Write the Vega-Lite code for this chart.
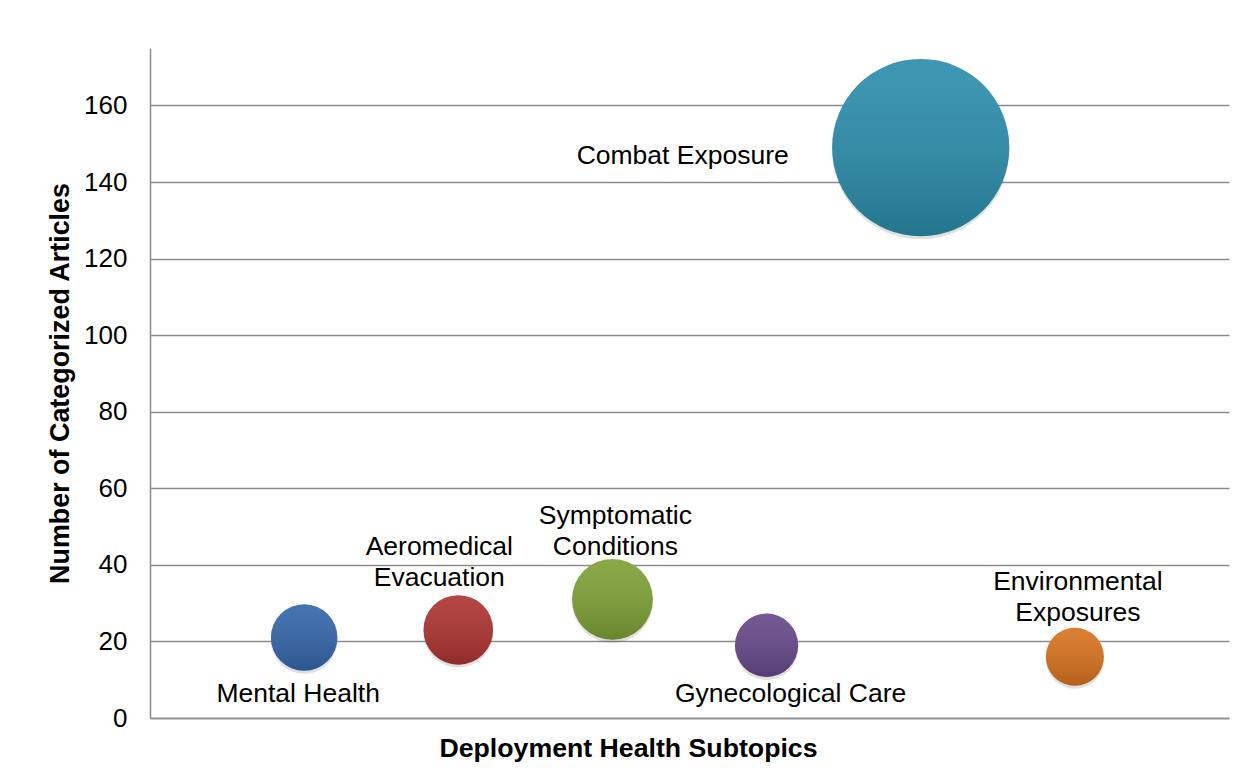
{
  "$schema": "https://vega.github.io/schema/vega-lite/v6.json",
  "width": 1079,
  "height": 670,
  "autosize": {"type": "none"},
  "padding": {"left": 150, "top": 48, "right": 25, "bottom": 63},
  "background": "white",
  "config": {
    "font": "Liberation Sans",
    "view": {"stroke": null},
    "axis": {
      "labelFont": "Liberation Sans",
      "titleFont": "Liberation Sans",
      "labelColor": "#000000",
      "titleColor": "#000000",
      "domainColor": "#8c8c8c",
      "domainWidth": 1.5,
      "gridColor": "#8c8c8c",
      "gridWidth": 1.5
    }
  },
  "data": {
    "values": [
      {"topic": "Mental Health", "x": 1, "articles": 21},
      {"topic": "Aeromedical Evacuation", "x": 2, "articles": 23},
      {"topic": "Symptomatic Conditions", "x": 3, "articles": 31},
      {"topic": "Gynecological Care", "x": 4, "articles": 19},
      {"topic": "Combat Exposure", "x": 5, "articles": 149},
      {"topic": "Environmental Exposures", "x": 6, "articles": 16}
    ]
  },
  "encoding": {
    "x": {
      "field": "x",
      "type": "quantitative",
      "scale": {"domain": [0, 7], "nice": false, "zero": true},
      "axis": {
        "title": "Deployment Health Subtopics",
        "labels": false,
        "ticks": false,
        "grid": false,
        "titleFontSize": 26.7,
        "titleFontWeight": "bold",
        "titleX": 478,
        "titleY": 30,
        "titleAlign": "center",
        "titleBaseline": "middle"
      }
    },
    "y": {
      "field": "articles",
      "type": "quantitative",
      "scale": {"domain": [0, 175], "nice": false},
      "axis": {
        "title": "Number of Categorized Articles",
        "values": [0, 20, 40, 60, 80, 100, 120, 140, 160],
        "ticks": false,
        "labelPadding": 23,
        "labelFontSize": 26,
        "titleFontSize": 26.9,
        "titleFontWeight": "bold",
        "titleAngle": 270,
        "titleX": -90,
        "titleY": 335,
        "titleAlign": "center",
        "titleBaseline": "middle"
      }
    }
  },
  "layer": [
    {
      "mark": {"type": "point", "shape": "circle", "filled": true, "fill": "#000000", "opacity": 0.12, "strokeWidth": 0},
      "encoding": {
        "size": {"field": "articles", "type": "quantitative", "scale": {"domain": [0, 149], "range": [0, 31400]}, "legend": null},
        "yOffset": {"value": 3}
      }
    },
    {
      "mark": {"type": "point", "shape": "circle", "filled": true, "opacity": 1, "strokeWidth": 0},
      "encoding": {
        "size": {"field": "articles", "type": "quantitative", "scale": {"domain": [0, 149], "range": [0, 30280]}, "legend": null},
        "color": {
          "field": "topic",
          "type": "nominal",
          "legend": null,
          "scale": {
            "domain": ["Mental Health", "Aeromedical Evacuation", "Symptomatic Conditions", "Gynecological Care", "Combat Exposure", "Environmental Exposures"],
            "range": ["#3466aa", "#ad3331", "#7ea136", "#664889", "#2b8dab", "#d8721f"]
          }
        }
      }
    },
    {
      "mark": {
        "type": "point",
        "shape": "circle",
        "filled": true,
        "opacity": 1,
        "strokeWidth": 0,
        "color": {
          "gradient": "linear",
          "x1": 0, "y1": 0, "x2": 0, "y2": 1,
          "stops": [
            {"offset": 0, "color": "rgba(255,255,255,0.09)"},
            {"offset": 1, "color": "rgba(0,0,0,0.17)"}
          ]
        }
      },
      "encoding": {
        "size": {"field": "articles", "type": "quantitative", "scale": {"domain": [0, 149], "range": [0, 30280]}, "legend": null}
      }
    },
    {
      "transform": [{"filter": "datum.topic === 'Mental Health'"}],
      "mark": {"type": "text", "fontSize": 26.5, "color": "#000000", "align": "center", "baseline": "middle", "dx": -6, "dy": 56},
      "encoding": {"text": {"field": "topic"}}
    },
    {
      "transform": [{"filter": "datum.topic === 'Aeromedical Evacuation'"}],
      "mark": {"type": "text", "fontSize": 26.5, "color": "#000000", "align": "center", "baseline": "middle", "lineBreak": " ", "lineHeight": 31, "dx": -19, "dy": -83},
      "encoding": {"text": {"field": "topic"}}
    },
    {
      "transform": [{"filter": "datum.topic === 'Symptomatic Conditions'"}],
      "mark": {"type": "text", "fontSize": 26.5, "color": "#000000", "align": "center", "baseline": "middle", "lineBreak": " ", "lineHeight": 31, "dx": 3, "dy": -83},
      "encoding": {"text": {"field": "topic"}}
    },
    {
      "transform": [{"filter": "datum.topic === 'Gynecological Care'"}],
      "mark": {"type": "text", "fontSize": 26.5, "color": "#000000", "align": "center", "baseline": "middle", "dx": 24, "dy": 49},
      "encoding": {"text": {"field": "topic"}}
    },
    {
      "transform": [{"filter": "datum.topic === 'Combat Exposure'"}],
      "mark": {"type": "text", "fontSize": 26.5, "color": "#000000", "align": "center", "baseline": "middle", "dx": -238, "dy": 8},
      "encoding": {"text": {"field": "topic"}}
    },
    {
      "transform": [{"filter": "datum.topic === 'Environmental Exposures'"}],
      "mark": {"type": "text", "fontSize": 26.5, "color": "#000000", "align": "center", "baseline": "middle", "lineBreak": " ", "lineHeight": 31, "dx": 3, "dy": -75},
      "encoding": {"text": {"field": "topic"}}
    }
  ]
}
